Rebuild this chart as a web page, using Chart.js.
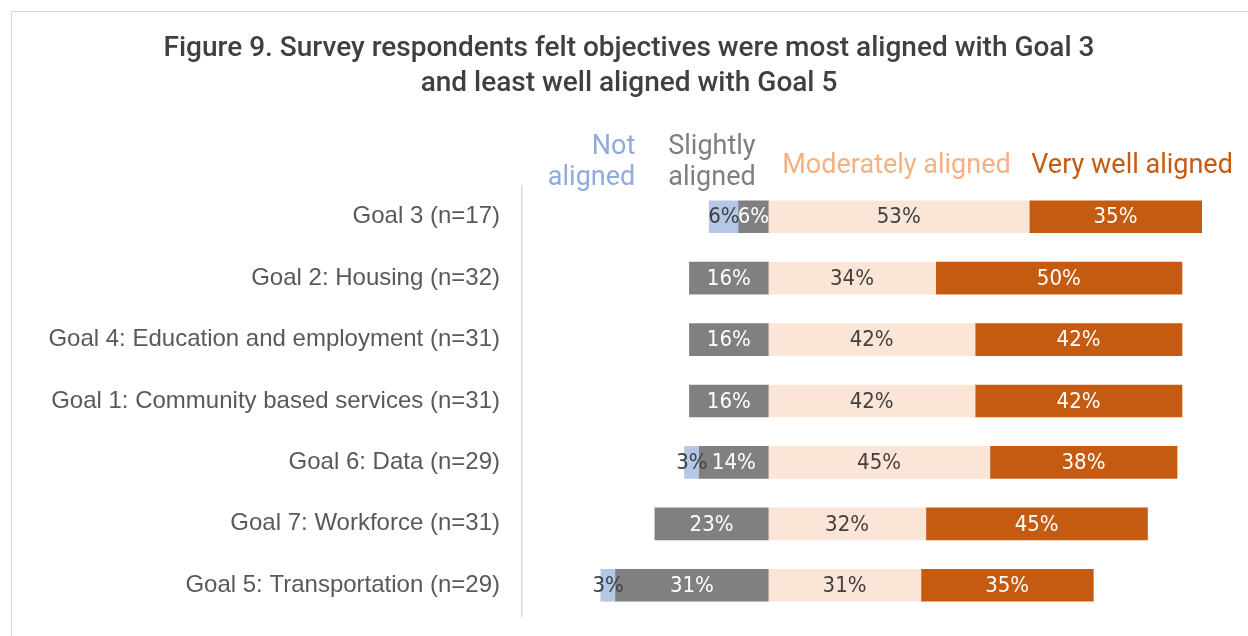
<!DOCTYPE html>
<html>
<head>
<meta charset="utf-8">
<script src="https://cdn.jsdelivr.net/npm/chart.js@4.4.1/dist/chart.umd.min.js"></script>
<style>
  html, body { margin: 0; padding: 0; background: #fff; overflow: hidden; }
  #frame {
    position: absolute; left: 11px; top: 11px;
    width: 1245px; height: 640px;
    border: 1px solid #d9d9d9;
  }
  canvas { display: block; }
</style>
</head>
<body>
<div id="frame"><canvas id="alignChart" width="1245" height="624"></canvas></div>
<script>
const goals = [
    'Goal 3 (n=17)',
    'Goal 2: Housing (n=32)',
    'Goal 4: Education and employment (n=31)',
    'Goal 1: Community based services (n=31)',
    'Goal 6: Data (n=29)',
    'Goal 7: Workforce (n=31)',
    'Goal 5: Transportation (n=29)'
];
// percent of respondents per rating
const notAligned = [6, 0, 0, 0, 3, 0, 3];
const slightlyAligned = [6, 16, 16, 16, 14, 23, 31];
const moderatelyAligned = [53, 34, 42, 42, 45, 32, 31];
const veryWellAligned = [35, 50, 42, 42, 38, 45, 35];

const condensed = "'DejaVu Sans Condensed', sans-serif";

// negative side grows left from zero: slightly first, then not aligned
const datasets = [
    { label: 'Slightly aligned', data: slightlyAligned.map(v => -v), backgroundColor: '#808080', textColor: '#ffffff' },
    { label: 'Not aligned', data: notAligned.map(v => -v), backgroundColor: '#b4c7e7', textColor: '#404040' },
    { label: 'Moderately aligned', data: moderatelyAligned, backgroundColor: '#fbe5d6', textColor: '#404040' },
    { label: 'Very well aligned', data: veryWellAligned, backgroundColor: '#c55a11', textColor: '#ffffff' }
];

// percentage inside each segment
const barLabels = {
    id: 'barLabels',
    afterDatasetsDraw(chart) {
        const ctx = chart.ctx;
        ctx.save();
        ctx.font = '22px ' + condensed;
        ctx.textAlign = 'center';
        ctx.textBaseline = 'middle';
        chart.data.datasets.forEach((ds, i) => {
            chart.getDatasetMeta(i).data.forEach((bar, j) => {
                const v = Math.abs(ds.data[j]);
                if (!v) return;
                ctx.fillStyle = ds.textColor;
                ctx.fillText(v + '%', (bar.x + bar.base) / 2, bar.y + 1);
            });
        });
        ctx.restore();
    }
};

// rating names above the columns
const headers = {
    id: 'headers',
    afterDraw(chart) {
        const ctx = chart.ctx;
        const zero = chart.scales.x.getPixelForValue(0);
        ctx.save();
        ctx.font = '27px Roboto';
        ctx.textBaseline = 'middle';
        ctx.textAlign = 'right';
        ctx.fillStyle = '#8faadc';
        ctx.fillText('Not', zero - 133, 135);
        ctx.fillText('aligned', zero - 133, 166);
        ctx.textAlign = 'left';
        ctx.fillStyle = '#7f7f7f';
        ctx.fillText('Slightly', zero - 100, 135);
        ctx.fillText('aligned', zero - 100, 166);
        ctx.fillStyle = '#f4b183';
        ctx.fillText('Moderately aligned', zero + 14, 154);
        ctx.fillStyle = '#c55a11';
        ctx.fillText('Very well aligned', zero + 263, 154);
        ctx.restore();
    }
};

new Chart(document.getElementById('alignChart'), {
    type: 'bar',
    data: { labels: goals, datasets: datasets },
    plugins: [barLabels, headers],
    options: {
        responsive: false,
        animation: false,
        indexAxis: 'y',
        datasets: {
            bar: { barThickness: 32, borderWidth: 0 }
        },
        layout: {
            padding: { left: 0, right: 11, top: 0, bottom: 20 }
        },
        scales: {
            x: {
                display: false,
                stacked: true,
                min: -50,
                max: 97
            },
            y: {
                stacked: true,
                afterFit(scale) {
                    scale.width = 510;
                    scale.paddingTop = 0;
                    scale.paddingBottom = 0;
                },
                grid: { display: false, drawTicks: false },
                border: { display: true, color: '#d9d9d9', width: 1.5 },
                ticks: {
                    padding: 22,
                    color: '#595959',
                    font: { family: "'Liberation Sans', Arial, sans-serif", size: 24 }
                }
            }
        },
        plugins: {
            legend: { display: false },
            tooltip: { enabled: false },
            title: {
                display: true,
                text: ['Figure 9. Survey respondents felt objectives were most aligned with Goal 3',
                       'and least well aligned with Goal 5'],
                color: '#404040',
                font: { family: 'Roboto', size: 28, weight: '500', lineHeight: 1.25 },
                padding: { top: 19, bottom: 85 }
            }
        }
    }
});
</script>
</body>
</html>
